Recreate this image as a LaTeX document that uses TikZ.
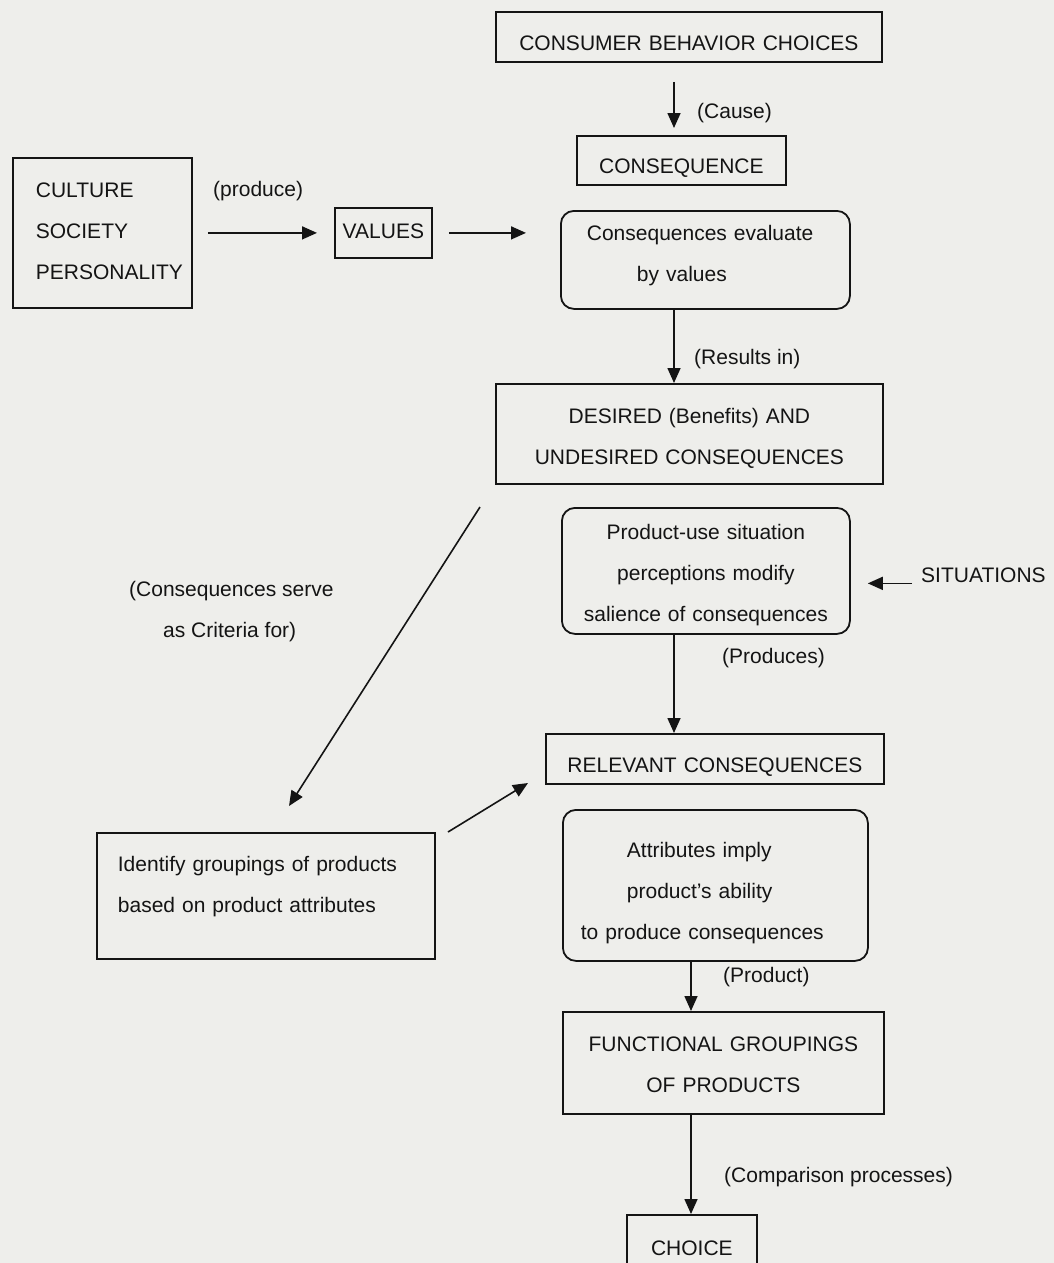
\documentclass[tikz,border=0pt]{standalone}
\usepackage{fontspec}
\setmainfont{Liberation Sans}
\usetikzlibrary{arrows.meta}
\definecolor{paper}{RGB}{238,238,235}
\definecolor{ink}{RGB}{20,20,20}

\begin{document}
\begin{tikzpicture}[x=1pt,y=-1pt,
  every node/.style={font=\fontsize{21}{41}\selectfont, text=ink, inner sep=0pt},
  box/.style={draw=ink, line width=1.8pt, anchor=north west, align=center},
  rbox/.style={box, rounded corners=13pt},
  lbl/.style={anchor=base west},
  arr/.style={draw=ink, line width=1.6pt, -{Triangle[length=15pt,width=13pt]}}]

% page
\fill[paper] (0,0) rectangle (1054,1263);
\useasboundingbox (0,0) rectangle (1054,1263);
\clip (0,0) rectangle (1054,1263);

% columns of the vertical connectors
\coordinate (colA) at (674,0);
\coordinate (colB) at (691,0);

% boxes
\node[box, text width=386pt, text height=39pt, text depth=11pt] (cbc) at (495,11)
  {CONSUMER BEHAVIOR CHOICES};
\node[box, text width=209pt, text height=38pt, text depth=11pt] (conseq) at (576,135)
  {CONSEQUENCE};
\node[box, align=left, text width=179pt, text height=40pt, text depth=110pt] (culture) at (12,157)
  {\hspace*{23pt}CULTURE\\\hspace*{23pt}SOCIETY\\\hspace*{23pt}PERSONALITY};
\node[box, text width=97pt, text height=31pt, text depth=19pt] (values) at (334,207)
  {VALUES};
\node[rbox, align=left, text width=289pt, text height=30pt, text depth=68pt] (eval) at (560,210)
  {\hspace*{26pt}Consequences evaluate\\\hspace*{76pt}by values};
\node[box, text width=387pt, text height=40pt, text depth=60pt] (desired) at (495,383)
  {DESIRED (Benefits) AND\\UNDESIRED CONSEQUENCES};
\node[rbox, text width=288pt, text height=32pt, text depth=94pt] (prod) at (561,507)
  {Product-use situation\\perceptions modify\\salience of consequences};
\node[box, text width=338pt, text height=39pt, text depth=11pt] (relevant) at (545,733)
  {RELEVANT CONSEQUENCES};
\node[box, align=left, text width=338pt, text height=39pt, text depth=87pt] (identify) at (96,832)
  {\hspace*{21pt}Identify groupings of products\\\hspace*{21pt}based on product attributes};
\node[rbox, align=left, text width=305pt, text height=48pt, text depth=103pt] (attr) at (562,809)
  {\hspace*{64pt}Attributes imply\\\hspace*{64pt}product's ability\\\hspace*{18pt}to produce consequences};
\node[box, text width=321pt, text height=40pt, text depth=62pt] (func) at (562,1011)
  {FUNCTIONAL GROUPINGS\\OF PRODUCTS};
\node[box, text width=130pt, text height=41pt, text depth=40pt] (choice) at (626,1214)
  {CHOICE};

% connector labels
\node[lbl] (cause)    at (697,118)  {(Cause)};
\node[lbl] (produce)  at (213,196)  {(produce)};
\node[lbl] (results)  at (694,364)  {(Results in)};
\node[lbl] (critA)    at (129,596)  {(Consequences serve};
\node[lbl] (critB)    at (163,637)  {as Criteria for)};
\node[lbl] (situ)     at (921,582)  {SITUATIONS};
\node[lbl] (produces) at (722,663)  {(Produces)};
\node[lbl] (product)  at (723,982)  {(Product)};
\node[lbl] (compare)  at (724,1182) {(Comparison processes)};

% free ends of the slanted connectors
\coordinate (d1) at (480,507);
\coordinate (d2) at (289,806);
\coordinate (g1) at (448,832);
\coordinate (g2) at (528,783);

% connectors
\draw[arr, shorten <=19pt, shorten >=7pt] (cbc.south -| colA) -- (conseq.north -| colA);
\draw[arr, shorten <=15pt, shorten >=17pt] (culture.east) -- (values.west);
\draw[arr, shorten <=16pt, shorten >=34pt] (values.east) -- (values.east -| eval.west);
\draw[arr] (eval.south -| colA) -- (desired.north -| colA);
\draw[arr, shorten <=9pt, shorten >=17pt] ([yshift=-8.6pt]situ.west) -- ([yshift=-8.6pt]situ.west -| prod.east);
\draw[arr] (prod.south -| colA) -- (relevant.north -| colA);
\draw[arr] (d1) -- (d2);
\draw[arr] (g1) -- (g2);
\draw[arr] (attr.south -| colB) -- (func.north -| colB);
\draw[arr] (func.south -| colB) -- (choice.north -| colB);
\end{tikzpicture}
\end{document}
